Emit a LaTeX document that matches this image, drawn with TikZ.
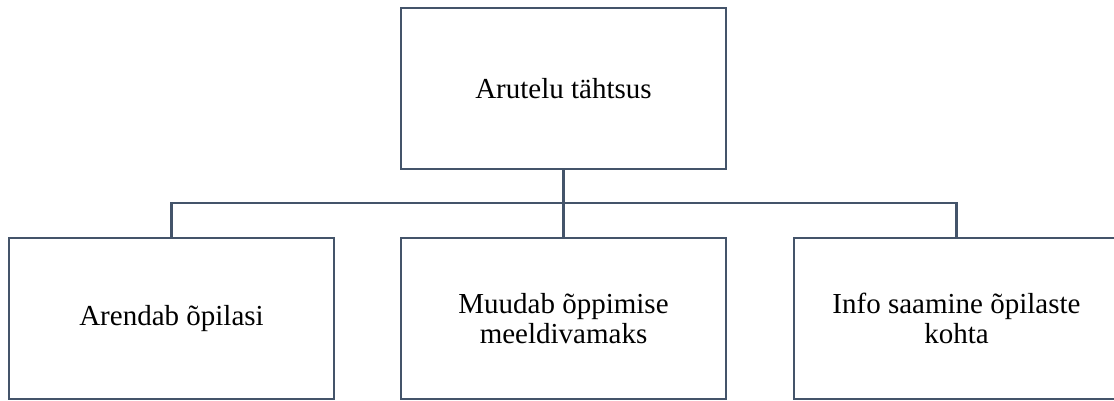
\documentclass[tikz,border=0pt]{standalone}
\usepackage{fontspec}
\setmainfont{Liberation Serif}
\definecolor{boxline}{HTML}{44546A}

\begin{document}
\begin{tikzpicture}[x=1pt,y=-1pt,
  box/.style={draw=boxline,line width=2.4pt,minimum width=325pt,minimum height=161pt,
    inner sep=0pt,align=center,font=\fontsize{29}{30}\selectfont},
  link/.style={draw=boxline,line width=2.4pt}]
\useasboundingbox (0,0) rectangle (1114,401);
\node[box] (top) at (563.5,88.5) {Arutelu tähtsus};
\node[box] (left) at (171.5,318.5) {Arendab õpilasi};
\node[box] (mid) at (563.5,318.5) {Muudab õppimise\\meeldivamaks};
\node[box] (right) at (956.5,318.5) {Info saamine õpilaste\\kohta};
\coordinate (bus) at (563.5,203);
\draw[link] (top.south) -- (bus) -- (mid.north);
\draw[link] (bus) -| (left.north);
\draw[link] (bus) -| (right.north);
\end{tikzpicture}
\end{document}
